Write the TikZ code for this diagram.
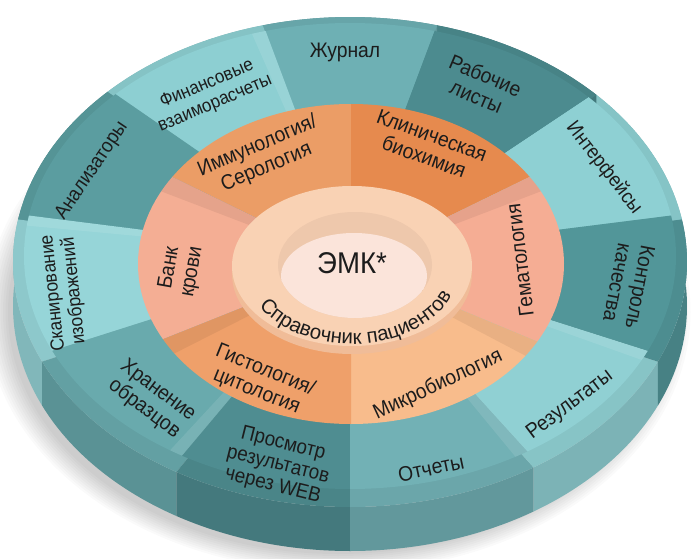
\documentclass[tikz,border=0pt]{standalone}
\usepackage{fontspec}
\setmainfont{Liberation Sans}[FakeStretch=0.92]
\newfontfamily\widesans{Liberation Sans}
\usetikzlibrary{decorations.text,calc}
\definecolor{txt}{HTML}{1C1C1C}
\definecolor{tJur}{HTML}{6EB0B4}
\definecolor{tRab}{HTML}{4C8B8F}
\definecolor{tInt}{HTML}{8ED0D3}
\definecolor{tKon}{HTML}{529699}
\definecolor{tRez}{HTML}{90D0D3}
\definecolor{tOtc}{HTML}{72B1B5}
\definecolor{tPro}{HTML}{4F8D91}
\definecolor{tHra}{HTML}{69AAAD}
\definecolor{tSka}{HTML}{96D5D8}
\definecolor{tAna}{HTML}{5B9DA0}
\definecolor{tFin}{HTML}{8DCFD2}
\definecolor{oImm}{HTML}{EB9D66}
\definecolor{oKli}{HTML}{E68A4E}
\definecolor{oGem}{HTML}{F5AD94}
\definecolor{oMik}{HTML}{F8BC8C}
\definecolor{oGis}{HTML}{EFA06A}
\definecolor{oBan}{HTML}{F4AE94}
\definecolor{sRing}{HTML}{F9D2B4}
\definecolor{sWall}{HTML}{F0BC98}
\definecolor{sWell}{HTML}{EEC8AC}
\definecolor{sFloor}{HTML}{FBE4DA}
\begin{document}
\begin{tikzpicture}[x=1pt,y=1pt,
  lbl/.style={text=txt, align=center, inner sep=0pt, font=\fontsize{21}{23}\selectfont}]
\useasboundingbox (0,0) rectangle (691,-559);
\fill[white] (0,0) rectangle (691,-559);
% soft shadow
\foreach \k in {0,...,9}
  \fill[black, opacity=0.018] (338,-312) ellipse [x radius={330+2.5*\k}, y radius={242+2*\k}];
% outer disc: side, bevel, face
\begin{scope}[shift={(350,-262)}]
  \foreach \a/\b/\c in {10/43/tInt, 43/75/tRab, 75/105/tJur, 105/136/tFin, 136/170/tAna, 170/204/tSka, 204/239/tHra, 239/270/tPro, 270/303/tOtc, 303/336/tRez, 336/370/tKon}{
    \fill[\c!86!black] (\a:337 and 245) arc[start angle=\a, end angle=\b, x radius=337, y radius=245]
      -- ++(0,-44) arc[start angle=\b, end angle=\a, x radius=337, y radius=245] -- cycle;
    \fill[\c!94!black] (0,0) -- (\a:337 and 245) arc[start angle=\a, end angle=\b, x radius=337, y radius=245] -- cycle;
  }
\end{scope}
\begin{scope}[shift={(350,-256)}]
  \foreach \a/\b/\c in {10/43/tInt, 43/75/tRab, 75/105/tJur, 105/136/tFin, 136/170/tAna, 170/204/tSka, 204/239/tHra, 239/270/tPro, 270/303/tOtc, 303/336/tRez, 336/370/tKon}{
    \fill[\c] (0,0) -- (\a:326 and 233) arc[start angle=\a, end angle=\b, x radius=326, y radius=233] -- cycle;
  }
  % light edge strips on some segments
  \foreach \a/\b in {105/107.5, 170/172.5, 236.5/239, 300.5/303, 333.5/336}{
    \fill[white, opacity=0.10] (0,0) -- (\a:326 and 233) arc[start angle=\a, end angle=\b, x radius=326, y radius=233] -- cycle;
  }
\end{scope}
% orange ring
\begin{scope}[shift={(351,-264)}]
  \foreach \a/\b/\c in {90/147/oImm, 33/90/oKli, -29/33/oGem, -90/-29/oMik, -152/-90/oGis, 147/208/oBan}{
    \fill[\c] (0,0) -- (\a:213 and 160) arc[start angle=\a, end angle=\b, x radius=213, y radius=160] -- cycle;
  }
  \foreach \a/\b in {147/153, 27/33, -35/-29, 208/214}{
    \fill[black, opacity=0.06] (0,0) -- (\a:213 and 160) arc[start angle=\a, end angle=\b, x radius=213, y radius=160] -- cycle;
  }
\end{scope}
% inner ring and well
\fill[sWall] (352,-274) ellipse [x radius=120, y radius=80];
\fill[sRing] (352,-266) ellipse [x radius=120, y radius=80];
\fill[sWell] (355,-265) ellipse [x radius=77, y radius=53];
\begin{scope}
  \clip (355,-265) ellipse [x radius=77, y radius=53];
  \fill[sFloor] (354,-276) ellipse [x radius=73, y radius=43];
\end{scope}
% labels outer ring
\node[lbl]              (jur)   at (345,-52)  {Журнал};
\node[lbl, rotate=-23]  (rab)   at (481,-86)  {Рабочие\\листы};
\node[lbl, rotate=-52, font=\fontsize{20}{22}\selectfont] (intf) at (604,-168) {Интерфейсы};
\node[lbl, rotate=-101] (kontr) at (629,-285) {Контроль\\качества};
\node[lbl, rotate=37]   (rez)   at (570,-405) {Результаты};
\node[lbl, rotate=12]   (otch)  at (431,-468) {Отчеты};
\node[lbl, rotate=-14, font=\fontsize{20.5}{21.5}\selectfont] (prosm) at (278,-465) {Просмотр\\результатов\\через WEB};
\node[lbl, rotate=-37]  (hran)  at (151,-400) {Хранение\\образцов};
\node[lbl, rotate=96, font=\fontsize{19}{21}\selectfont] (skan) at (64,-292) {Сканирование\\изображений};
\node[lbl, rotate=56, font=\fontsize{20}{22}\selectfont] (ana) at (92,-171) {Анализаторы};
\node[lbl, rotate=23, font=\fontsize{18.5}{21}\selectfont] (fin) at (211,-94) {Финансовые\\взаиморасчеты};
% labels orange ring
\node[lbl, rotate=23]   (imm)   at (262,-157) {Иммунология/\\Серология};
\node[lbl, rotate=-20]  (klin)  at (428,-146) {Клиническая\\биохимия};
\node[lbl, rotate=97]   (gem)   at (520,-260) {Гематология};
\node[lbl, rotate=25]   (mikro) at (438,-385) {Микробиология};
\node[lbl, rotate=-22]  (gist)  at (261,-381) {Гистология/\\цитология};
\node[lbl, rotate=80]   (bank)  at (181,-270) {Банк\\крови};
% centre
\node[lbl, font=\fontsize{30}{32}\selectfont] (emk) at (352,-263) {ЭМК*};
\path[decorate, decoration={text along path, text align=center,
   text={|\widesans\fontsize{20.5}{21}\selectfont\color{txt}|Справочник пациентов}}]
   ($(352,-268)+(195:107 and 76)$) arc [start angle=195, end angle=354, x radius=107, y radius=76];
\end{tikzpicture}
\end{document}
